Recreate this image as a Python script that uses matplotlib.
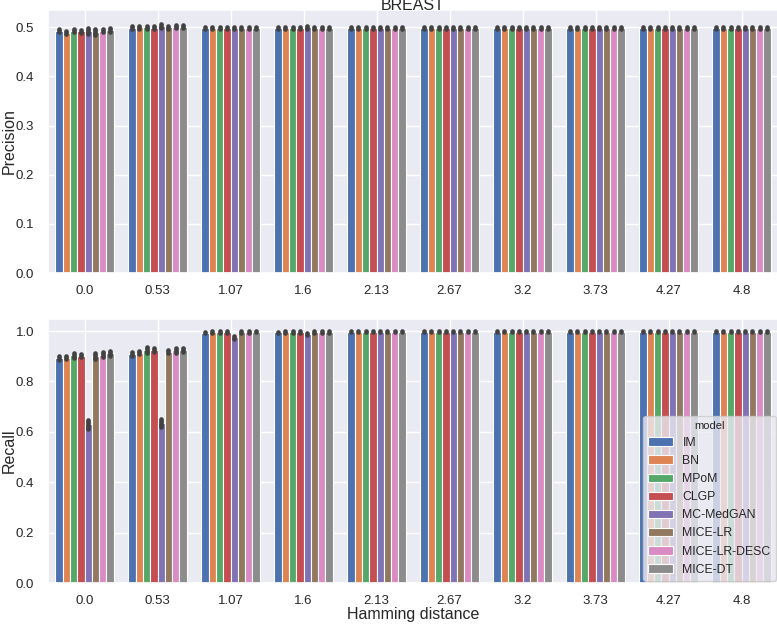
import numpy as np
import matplotlib
matplotlib.use("Agg")
import matplotlib.pyplot as plt
import seaborn as sns

sns.set_theme(style="darkgrid")
plt.rcParams["font.family"] = ["Liberation Sans", "DejaVu Sans"]

distances = ["0.0", "0.53", "1.07", "1.6", "2.13", "2.67", "3.2", "3.73", "4.27", "4.8"]
models = ["IM", "BN", "MPoM", "CLGP", "MC-MedGAN", "MICE-LR", "MICE-LR-DESC", "MICE-DT"]
colors = sns.color_palette("deep", 8)

# precision per model, one value per hamming distance
precision = {
    "IM":           [0.493, 0.499, 0.499, 0.499, 0.499, 0.499, 0.499, 0.499, 0.499, 0.499],
    "BN":           [0.489, 0.500, 0.498, 0.499, 0.499, 0.499, 0.499, 0.499, 0.499, 0.499],
    "MPoM":         [0.493, 0.500, 0.499, 0.499, 0.499, 0.499, 0.499, 0.499, 0.499, 0.499],
    "CLGP":         [0.492, 0.499, 0.499, 0.499, 0.499, 0.499, 0.499, 0.499, 0.499, 0.499],
    "MC-MedGAN":    [0.493, 0.503, 0.498, 0.500, 0.499, 0.499, 0.499, 0.499, 0.499, 0.499],
    "MICE-LR":      [0.491, 0.500, 0.499, 0.499, 0.499, 0.499, 0.499, 0.499, 0.499, 0.499],
    "MICE-LR-DESC": [0.493, 0.501, 0.499, 0.499, 0.499, 0.499, 0.499, 0.499, 0.499, 0.499],
    "MICE-DT":      [0.494, 0.501, 0.499, 0.499, 0.499, 0.499, 0.499, 0.499, 0.499, 0.499],
}
precision_err = {
    "IM":           [0.003, 0.003, 0.002, 0.002, 0.002, 0.002, 0.002, 0.002, 0.002, 0.002],
    "BN":           [0.003, 0.003, 0.002, 0.002, 0.002, 0.002, 0.002, 0.002, 0.002, 0.002],
    "MPoM":         [0.003, 0.003, 0.002, 0.002, 0.002, 0.002, 0.002, 0.002, 0.002, 0.002],
    "CLGP":         [0.003, 0.003, 0.002, 0.002, 0.002, 0.002, 0.002, 0.002, 0.002, 0.002],
    "MC-MedGAN":    [0.006, 0.004, 0.002, 0.003, 0.002, 0.002, 0.002, 0.002, 0.002, 0.002],
    "MICE-LR":      [0.006, 0.003, 0.002, 0.002, 0.002, 0.002, 0.002, 0.002, 0.002, 0.002],
    "MICE-LR-DESC": [0.003, 0.003, 0.002, 0.002, 0.002, 0.002, 0.002, 0.002, 0.002, 0.002],
    "MICE-DT":      [0.004, 0.003, 0.002, 0.002, 0.002, 0.002, 0.002, 0.002, 0.002, 0.002],
}
recall = {
    "IM":           [0.893, 0.908, 0.994, 0.995, 0.998, 0.998, 0.998, 0.998, 0.998, 0.998],
    "BN":           [0.894, 0.915, 0.996, 0.996, 0.998, 0.998, 0.998, 0.998, 0.998, 0.998],
    "MPoM":         [0.905, 0.925, 0.997, 0.996, 0.998, 0.998, 0.998, 0.998, 0.998, 0.998],
    "CLGP":         [0.902, 0.926, 0.997, 0.996, 0.998, 0.998, 0.998, 0.998, 0.998, 0.998],
    "MC-MedGAN":    [0.630, 0.635, 0.975, 0.988, 0.997, 0.998, 0.998, 0.998, 0.998, 0.998],
    "MICE-LR":      [0.903, 0.918, 0.997, 0.996, 0.998, 0.998, 0.998, 0.998, 0.998, 0.998],
    "MICE-LR-DESC": [0.906, 0.923, 0.997, 0.996, 0.998, 0.998, 0.998, 0.998, 0.998, 0.998],
    "MICE-DT":      [0.912, 0.925, 0.998, 0.996, 0.998, 0.998, 0.998, 0.998, 0.998, 0.998],
}
recall_err = {
    "IM":           [0.008, 0.008, 0.003, 0.003, 0.002, 0.002, 0.002, 0.002, 0.002, 0.002],
    "BN":           [0.006, 0.006, 0.003, 0.003, 0.002, 0.002, 0.002, 0.002, 0.002, 0.002],
    "MPoM":         [0.010, 0.012, 0.003, 0.003, 0.002, 0.002, 0.002, 0.002, 0.002, 0.002],
    "CLGP":         [0.006, 0.008, 0.003, 0.003, 0.002, 0.002, 0.002, 0.002, 0.002, 0.002],
    "MC-MedGAN":    [0.018, 0.016, 0.005, 0.004, 0.002, 0.002, 0.002, 0.002, 0.002, 0.002],
    "MICE-LR":      [0.012, 0.006, 0.003, 0.003, 0.002, 0.002, 0.002, 0.002, 0.002, 0.002],
    "MICE-LR-DESC": [0.010, 0.010, 0.003, 0.003, 0.002, 0.002, 0.002, 0.002, 0.002, 0.002],
    "MICE-DT":      [0.010, 0.008, 0.003, 0.003, 0.002, 0.002, 0.002, 0.002, 0.002, 0.002],
}


def draw(ax, vals, errs):
    x = np.arange(len(distances))
    w = 0.8 / len(models)
    for i, m in enumerate(models):
        pos = x - 0.4 + w * (i + 0.5)
        ax.bar(pos, vals[m], width=w, color=colors[i], edgecolor="white",
               linewidth=0.8, label=m, zorder=2)
        eb = ax.errorbar(pos, vals[m], yerr=errs[m], fmt="none", ecolor="#424242",
                         elinewidth=3.4, capsize=0, zorder=3)
        for lc in eb[2]:
            lc.set_capstyle("round")
    ax.set_xticks(x)
    ax.set_xticklabels(distances)
    ax.set_xlim(-0.5, len(distances) - 0.5)
    ax.tick_params(labelsize=9.5, pad=4)
    ax.tick_params(axis="x", pad=3)
    ax.yaxis.set_label_coords(-0.043, 0.5)


fig = plt.figure(figsize=(7.77, 6.24), dpi=100)
ax1 = fig.add_axes([48 / 777, 1 - 273 / 624, 730 / 777, 263 / 624])
ax2 = fig.add_axes([48 / 777, 1 - 583 / 624, 730 / 777, 264 / 624])

draw(ax1, precision, precision_err)
ax1.set_ylim(0, 0.535)
ax1.set_ylabel("Precision", fontsize=11.5)
fig.text(413 / 777, 1 - 6 / 624, "BREAST", fontsize=11.5, ha="center", va="center")

draw(ax2, recall, recall_err)
ax2.set_ylim(0, 1.048)
ax2.set_ylabel("Recall", fontsize=11.5)
ax2.set_xlabel("Hamming distance", fontsize=11.5, labelpad=0)
ax2.legend(title="model", loc="lower right", fontsize=8.8, title_fontsize=8,
           framealpha=0.8, borderaxespad=0.2, handlelength=2.0,
           labelspacing=0.5)

fig.savefig("out.png", dpi=100)
